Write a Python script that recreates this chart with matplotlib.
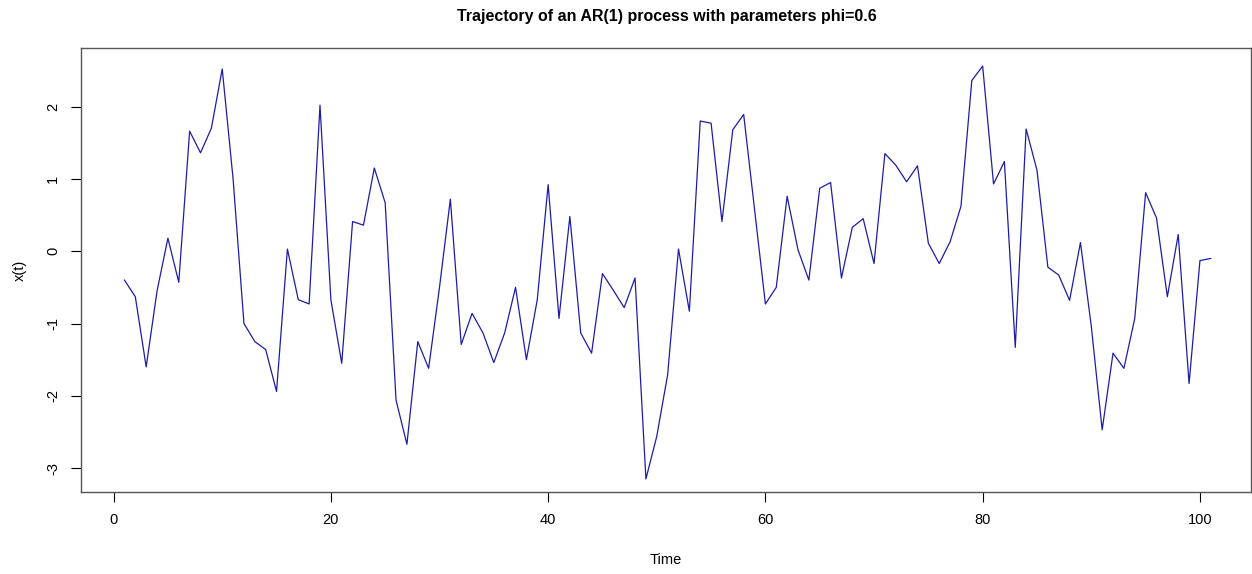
import numpy as np
import matplotlib.pyplot as plt

plt.rcParams['font.family'] = ['Liberation Sans', 'DejaVu Sans']

# values, t = 1..101
time = np.arange(1, 102)
x_t = [-0.40, -0.63, -1.60, -0.55, 0.18, -0.43, 1.66, 1.36, 1.70, 2.52,
       1.00, -1.00, -1.25, -1.36, -1.94, 0.03, -0.67, -0.73, 2.02, -0.67,
       -1.55, 0.41, 0.36, 1.15, 0.67, -2.06, -2.67, -1.25, -1.62, -0.50,
       0.72, -1.29, -0.86, -1.13, -1.54, -1.13, -0.50, -1.50, -0.67, 0.92,
       -0.93, 0.48, -1.13, -1.41, -0.31, -0.54, -0.78, -0.37, -3.15, -2.56,
       -1.71, 0.03, -0.83, 1.80, 1.77, 0.41, 1.68, 1.89, 0.58, -0.73,
       -0.50, 0.76, 0.02, -0.40, 0.87, 0.95, -0.37, 0.33, 0.45, -0.17,
       1.35, 1.19, 0.96, 1.18, 0.11, -0.17, 0.13, 0.62, 2.36, 2.56,
       0.93, 1.24, -1.33, 1.69, 1.12, -0.22, -0.33, -0.68, 0.12, -1.04,
       -2.47, -1.41, -1.62, -0.93, 0.81, 0.46, -0.63, 0.23, -1.83, -0.13,
       -0.10]
phi = 0.6

fig = plt.figure(figsize=(12.52, 5.74), dpi=100)
ax = fig.add_axes([81 / 1252, 82 / 574, 1170 / 1252, 444 / 574])

ax.plot(time, x_t, color='#1c1ca8', lw=0.9)

ax.set_xlim(-3, 104.7)
ax.set_ylim(-3.33, 2.81)
ax.set_xticks([0, 20, 40, 60, 80, 100])
ax.set_yticks([-3, -2, -1, 0, 1, 2])
ax.set_yticklabels(['-3', '-2', '-1', '0', '1', '2'], rotation=90, va='center')
ax.tick_params(direction='out', length=7, width=0.8, labelsize=10.5, pad=8)

for s in ax.spines.values():
    s.set_color('#555555')
    s.set_linewidth(1.0)

# R centres the labels on the full plot region, which runs past the right edge
fig.text(667 / 1252, 0.972, f'Trajectory of an AR(1) process with parameters phi={phi}',
         ha='center', va='center', fontsize=11.5, fontweight='bold')
fig.text(666 / 1252, 0.024, 'Time', ha='center', va='center', fontsize=10.5)
fig.text(20 / 1252, 1 - 270 / 574, 'x(t)', rotation=90,
         ha='center', va='center', fontsize=10.5)

plt.savefig('out.png')
